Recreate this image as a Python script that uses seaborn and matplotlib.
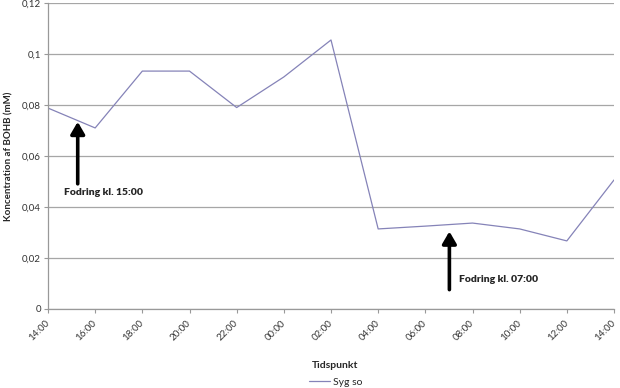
import matplotlib
matplotlib.use("Agg")
import matplotlib.pyplot as plt
import seaborn as sns
import pandas as pd
import numpy as np
from matplotlib.lines import Line2D

times = ["14:00", "16:00", "18:00", "20:00", "22:00", "00:00", "02:00",
         "04:00", "06:00", "08:00", "10:00", "12:00", "14:00"]
values = [0.0788, 0.0710, 0.0933, 0.0933, 0.0790, 0.0910, 0.1055,
          0.0314, 0.0325, 0.0337, 0.0314, 0.0267, 0.0506]
series_name = "Syg so"
y_ticks = [0, 0.02, 0.04, 0.06, 0.08, 0.1, 0.12]
y_tick_labels = ["0", "0,02", "0,04", "0,06", "0,08", "0,1", "0,12"]

sns.set_theme(style="white")
plt.rcParams['font.family'] = ['Lato', 'DejaVu Sans']

df = pd.DataFrame({"pos": np.arange(len(times)), "val": values, "serie": series_name})

fig = plt.figure(figsize=(6.2, 3.88), dpi=100)
ax = fig.add_axes([48/620, 1-309/388, 566/620, 306/388])

sns.lineplot(data=df, x="pos", y="val", hue="serie", palette=["#8583B8"],
             linewidth=0.9, ax=ax, legend=False)

ax.set_xlim(0, len(times) - 1)
ax.set_ylim(0, 0.12)
ax.set_yticks(y_ticks)
ax.set_yticklabels(y_tick_labels, fontsize=7, color="#333333")
ax.set_xticks(np.arange(len(times)))
ax.set_xticklabels(times, rotation=45, ha="right", va="center",
                   rotation_mode="anchor", fontsize=7, color="#333333")
ax.yaxis.grid(True, color="#A6A6A6", linewidth=0.9)
ax.set_axisbelow(True)
for s in ["top", "right"]:
    ax.spines[s].set_visible(False)
for s in ["left", "bottom"]:
    ax.spines[s].set_color("#999999")
    ax.spines[s].set_linewidth(0.9)
ax.tick_params(axis="both", which="both", direction="out", length=3,
               width=0.8, color="#999999", pad=2, left=True, bottom=True)
ax.tick_params(axis="x", pad=6)

ax.set_ylabel("Koncentration af BOHB (mM)", fontsize=7, fontweight="bold",
              labelpad=6)
ax.set_xlabel("")
fig.text(0.54, 1-366/388, "Tidspunkt", fontsize=7.5, fontweight="bold",
         ha="center", va="center")

# annotations
ax.annotate("", xy=(0.63, 0.0745), xytext=(0.63, 0.048),
            arrowprops=dict(arrowstyle="-|>,head_width=0.35,head_length=0.6",
                            color="black", lw=2.6))
ax.text(0.34, 0.0455, "Fodring kl. 15:00", fontsize=7.5, fontweight="heavy",
        ha="left", va="center")
ax.annotate("", xy=(8.51, 0.0315), xytext=(8.51, 0.0065),
            arrowprops=dict(arrowstyle="-|>,head_width=0.35,head_length=0.6",
                            color="black", lw=2.6))
ax.text(8.72, 0.0115, "Fodring kl. 07:00", fontsize=7.5, fontweight="heavy",
        ha="left", va="center")

# legend
h = Line2D([], [], color="#8583B8", lw=0.9)
fig.legend([h], [series_name], loc="center", bbox_to_anchor=(0.542, 1-382/388),
           frameon=False, fontsize=7.5, handlelength=2.0, handletextpad=0.3)

fig.savefig("out.png", dpi=100)
